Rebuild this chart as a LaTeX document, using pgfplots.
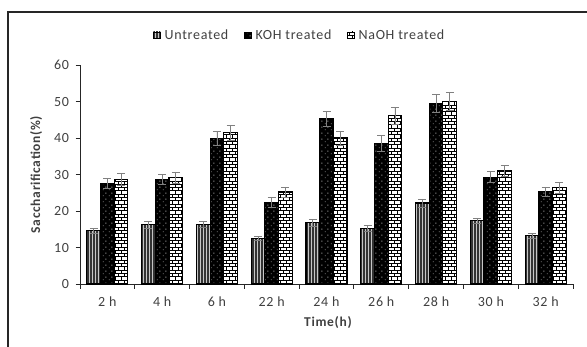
\documentclass[border=0pt]{standalone}
\usepackage{pgfplots}
\usepackage{pgfplotstable}
\pgfplotsset{compat=1.18}
\usepackage{fontspec}
\setmainfont{Carlito}[LetterSpace=5]
\usetikzlibrary{patterns}

\pgfdeclarepatternformonly{vstripes}{\pgfqpoint{-1pt}{-1pt}}{\pgfqpoint{4pt}{4pt}}{\pgfqpoint{3pt}{3pt}}{%
  \pgfsetlinewidth{1.3pt}%
  \pgfpathmoveto{\pgfqpoint{1pt}{-1pt}}\pgfpathlineto{\pgfqpoint{1pt}{4pt}}\pgfusepath{stroke}}
\pgfdeclarepatternformonly{sparsedots}{\pgfqpoint{0pt}{0pt}}{\pgfqpoint{6pt}{6pt}}{\pgfqpoint{6pt}{6pt}}{%
  \pgfpathrectangle{\pgfqpoint{1pt}{1pt}}{\pgfqpoint{1pt}{1pt}}\pgfpathrectangle{\pgfqpoint{4pt}{4pt}}{\pgfqpoint{1pt}{1pt}}\pgfusepath{fill}}
\pgfdeclarepatternformonly{mybricks}{\pgfqpoint{-1pt}{-1pt}}{\pgfqpoint{7pt}{8pt}}{\pgfqpoint{6pt}{6.6pt}}{%
  \pgfsetlinewidth{0.9pt}%
  \pgfpathmoveto{\pgfqpoint{-1pt}{0pt}}\pgfpathlineto{\pgfqpoint{7pt}{0pt}}%
  \pgfpathmoveto{\pgfqpoint{-1pt}{3.3pt}}\pgfpathlineto{\pgfqpoint{7pt}{3.3pt}}%
  \pgfpathmoveto{\pgfqpoint{1pt}{0pt}}\pgfpathlineto{\pgfqpoint{1pt}{3.3pt}}%
  \pgfpathmoveto{\pgfqpoint{4pt}{3.3pt}}\pgfpathlineto{\pgfqpoint{4pt}{6.6pt}}%
  \pgfusepath{stroke}}

\definecolor{txt}{RGB}{64,64,64}
\definecolor{errc}{RGB}{128,128,128}

\pgfplotstableread{
x  u    ue   k    ke   n    ne
0  14.6 0.7  27.5 1.4  28.6 1.6
1  16.2 0.9  28.6 1.3  29.1 1.6
2  16.4 0.8  39.9 1.9  41.4 2.1
3  12.5 0.6  22.3 1.4  25.2 1.4
4  16.8 0.9  45.2 2.1  40.0 1.9
5  15.3 0.8  38.6 2.2  46.1 2.4
6  22.2 1.1  49.5 2.5  50.1 2.5
7  17.3 0.8  29.3 1.5  31.0 1.4
8  13.2 0.6  25.3 1.3  26.4 1.5
}\datatable

\begin{document}
\begin{tikzpicture}
\path[use as bounding box] (0,0) rectangle (587pt,-346pt);
\draw[line width=1.5pt, black!85] (8pt,-12pt) rectangle (620pt,-380pt);
\begin{axis}[
  at={(80pt,-284pt)}, anchor=south west,
  scale only axis, width=493pt, height=219pt,
  ybar=0pt, bar width=0.25,
  xmin=-0.5, xmax=8.5, ymin=0, ymax=60,
  xtick={-0.5,0.5,...,8.5},
  x tick label as interval=true,
  xticklabels={2 h,4 h,6 h,22 h,24 h,26 h,28 h,30 h,32 h},
  ytick={0,10,...,60},
  /pgf/number format/assume math mode=true,
  axis x line*=bottom, axis y line*=left,
  axis line style={black!85, line width=0.8pt},
  tick align=outside,
  major tick length=4.5pt,
  tick style={black!85, line width=0.8pt},
  ticklabel style={font=\fontsize{14}{16}\selectfont, text=txt},
  xticklabel style={yshift=-5pt},
  yticklabel style={xshift=-3pt},
  xlabel={Time(h)},
  ylabel={Saccharification(\%)},
  label style={font=\bfseries\fontsize{13.5}{15}\selectfont, text=txt},
  ylabel style={at={(axis description cs:-0.089,0.5)}, anchor=center},
  xlabel style={at={(axis description cs:0.503,-0.174)}, anchor=center},
  legend style={at={(0.446,1.137)}, anchor=center, draw=none, fill=none,
    legend columns=3, font=\fontsize{14}{16}\selectfont, text=txt,
    /tikz/every even column/.append style={column sep=14pt}},
  legend image code/.code={\draw[#1, line width=0.5pt] (0pt,-3.2pt) rectangle (6.4pt,3.2pt);},
  error bars/y dir=both, error bars/y explicit,
  error bars/error bar style={errc, line width=0.8pt},
  error bars/error mark options={rotate=90, mark size=4pt, errc, line width=0.8pt},
]
\addplot[draw=black, line width=1.1pt, fill=gray!45, postaction={pattern=vstripes, pattern color=black!80}]
  table[x=x, y=u, y error=ue] {\datatable};
\addplot[draw=black, line width=1.1pt, fill=black, postaction={pattern=sparsedots, pattern color=gray!70}]
  table[x=x, y=k, y error=ke] {\datatable};
\addplot[draw=black, line width=1.1pt, fill=white, postaction={pattern=mybricks, pattern color=black}]
  table[x=x, y=n, y error=ne] {\datatable};
\legend{\,Untreated, \,KOH treated, \,NaOH treated}
\end{axis}
\end{tikzpicture}
\end{document}
